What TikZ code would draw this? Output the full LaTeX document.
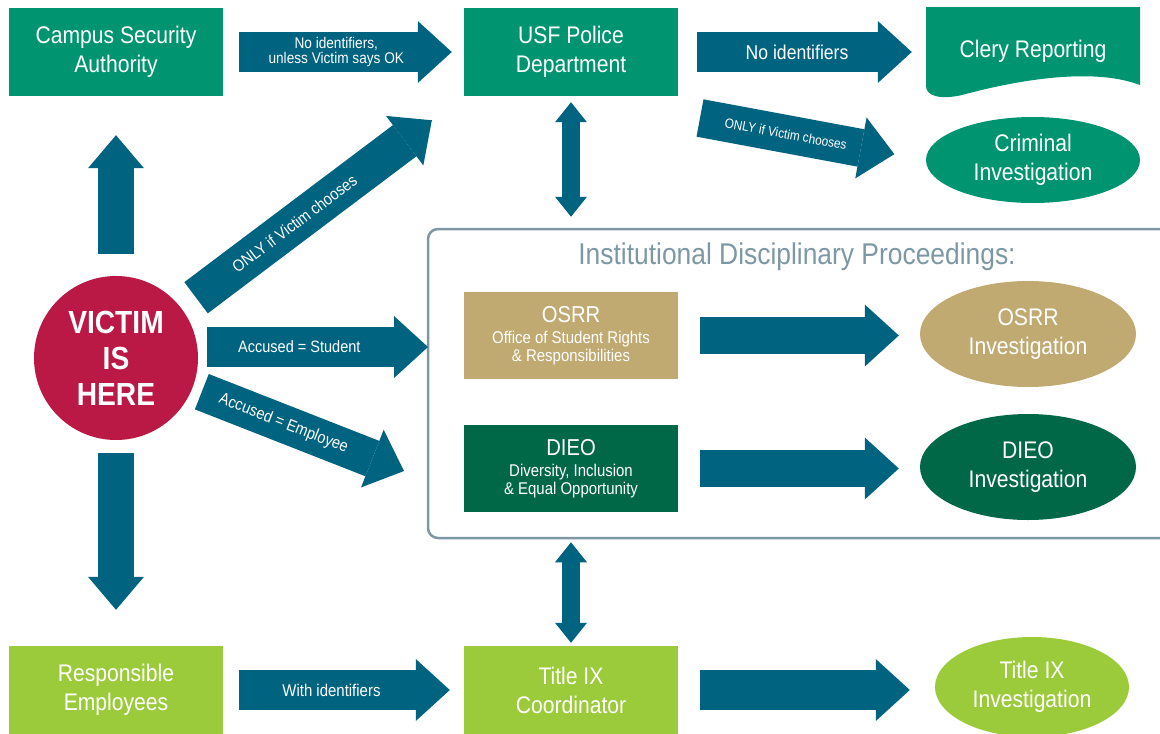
\documentclass[tikz,border=0pt]{standalone}
\usepackage{fontspec}
\setmainfont{Liberation Sans}[FakeStretch=0.88]
\usetikzlibrary{arrows.meta,shapes.geometric}

\definecolor{sfgreen}{RGB}{0,148,112}
\definecolor{sfblue}{RGB}{0,99,128}
\definecolor{sftan}{RGB}{192,170,114}
\definecolor{sfdark}{RGB}{0,103,71}
\definecolor{sflime}{RGB}{155,203,59}
\definecolor{sfred}{RGB}{186,24,69}
\definecolor{sfgray}{RGB}{125,152,164}

\newcommand{\unitname}[1]{{\fontsize{23}{24}\selectfont #1}}

\tikzset{
  unit/.style={fill=#1, text=white, minimum width=214pt, minimum height=88pt, inner sep=0pt, align=center},
  subunit/.style={unit=#1, minimum height=87pt, font=\fontsize{17}{18}\selectfont},
  oval/.style={ellipse, fill=#1, text=white, inner sep=0pt, align=center},
  fatarrow/.style={draw=sfblue, line width=40pt, -{Triangle[length=34pt,width=62pt,line width=0pt]}},
  stemarrow/.style={draw=sfblue, line width=36pt, -{Triangle[length=33pt,width=56pt,line width=0pt]}},
  twoway/.style={draw=sfblue, line width=18pt, {Triangle[length=20pt,width=32pt,line width=0pt]}-{Triangle[length=20pt,width=32pt,line width=0pt]}},
  tag/.style={text=white, align=center, font=\fontsize{#1}{#1}\selectfont},
}

\begin{document}
\begin{tikzpicture}[x=1pt, y=-1pt, font=\fontsize{24}{29}\selectfont]
\useasboundingbox (0,0) rectangle (1160,734);
% Top row
\node[unit=sfgreen] (csa) at (116,52) {Campus Security\\Authority};
\node[unit=sfgreen] (usf) at (571,52) {USF Police\\Department};
\fill[sfgreen] (926,7) -- (1140,7) -- (1140,85) .. controls (1090,66) and (1010,82) .. (962,95) .. controls (940,100) and (926,96) .. (926,86) -- cycle; % Clery sheet
\node[minimum width=214pt, minimum height=78pt, text=white] (clery) at (1033,51) {Clery Reporting};
\node[oval=sfgreen, minimum width=214pt, minimum height=86pt] (crim) at (1033,160) {Criminal\\Investigation};

% Victim
\node[circle, fill=sfred, minimum size=164pt, inner sep=0pt, text=white, align=center, font=\bfseries\fontsize{32}{36}\selectfont] (victim) at (116,358) {VICTIM\\IS\\HERE};

% Institutional proceedings frame
\node[draw=sfgray, line width=2.5pt, rounded corners=10pt, minimum width=745pt, minimum height=309pt] (idp) at (800.5,383.5) {};
\node[text=sfgray, font=\fontsize{30}{32}\selectfont] (idptitle) at (797,257) {Institutional Disciplinary Proceedings:};
\node[subunit=sftan] (osrr) at (571,335.5) {\unitname{OSRR}\\[3pt]Office of Student Rights\\\& Responsibilities};
\node[subunit=sfdark] (dieo) at (571,468.5) {\unitname{DIEO}\\[3pt]Diversity, Inclusion\\\& Equal Opportunity};
\node[oval=sftan, minimum width=216pt, minimum height=106pt] (osrrinv) at (1028,334) {OSRR\\Investigation};
\node[oval=sfdark, minimum width=216pt, minimum height=106pt] (dieoinv) at (1028,467) {DIEO\\Investigation};

% Bottom row
\node[unit=sflime] (resp) at (116,690) {Responsible\\Employees};
\node[unit=sflime] (tix) at (571,690) {Title IX\\Coordinator};
\node[oval=sflime, minimum width=194pt, minimum height=100pt] (tixinv) at (1032,687) {Title IX\\Investigation};

% Free ends
\coordinate (crimtail) at (700,118);
\coordinate (stutip) at (428,347);
\coordinate (emptip) at (404,471);

% Arrows
\draw[fatarrow, shorten <=16pt, shorten >=12pt] (csa) -- (usf) node[tag=15.5, pos=0.47] {No identifiers,\\unless Victim says OK};
\draw[fatarrow, shorten <=19pt, shorten >=14pt] (usf) -- (usf -| clery.west) node[tag=20, pos=0.48] {No identifiers};
\draw[fatarrow, line width=38pt, shorten >=32pt] (crimtail) -- (crim.west) node[tag=13.5, sloped, pos=0.38] {ONLY if Victim chooses};
\draw[twoway, shorten <=6pt, shorten >=11pt] (usf) -- (usf |- idp.north);
\draw[twoway, shorten <=3pt, shorten >=3pt] (tix |- idp.south) -- (tix);
\draw[stemarrow, shorten <=22pt, shorten >=39pt] (victim) -- (victim |- csa.south);
\draw[stemarrow, shorten <=13pt, shorten >=36pt] (victim) -- (victim |- resp.north);
\draw[fatarrow, line width=39pt, shorten <=18pt, shorten >=40pt] (victim) -- (usf.south west) node[tag=16.5, sloped, pos=0.4] {ONLY if Victim chooses};
\draw[fatarrow, shorten <=9pt] (victim.east |- stutip) -- (stutip) node[tag=16.5, pos=0.44] {Accused = Student};
\draw[fatarrow, line width=38pt, shorten <=10pt] (victim) -- (emptip) node[tag=16.5, sloped, pos=0.43] {Accused = Employee};
\draw[fatarrow, line width=37pt, shorten <=22pt, shorten >=21pt] (osrr) -- (osrr -| osrrinv.west);
\draw[fatarrow, line width=37pt, shorten <=22pt, shorten >=21pt] (dieo) -- (dieo -| dieoinv.west);
\draw[fatarrow, shorten <=16pt, shorten >=14pt] (resp) -- (tix) node[tag=17, pos=0.45] {With identifiers};
\draw[fatarrow, shorten <=22pt, shorten >=25pt] (tix) -- (tix -| tixinv.west);
\end{tikzpicture}
\end{document}
